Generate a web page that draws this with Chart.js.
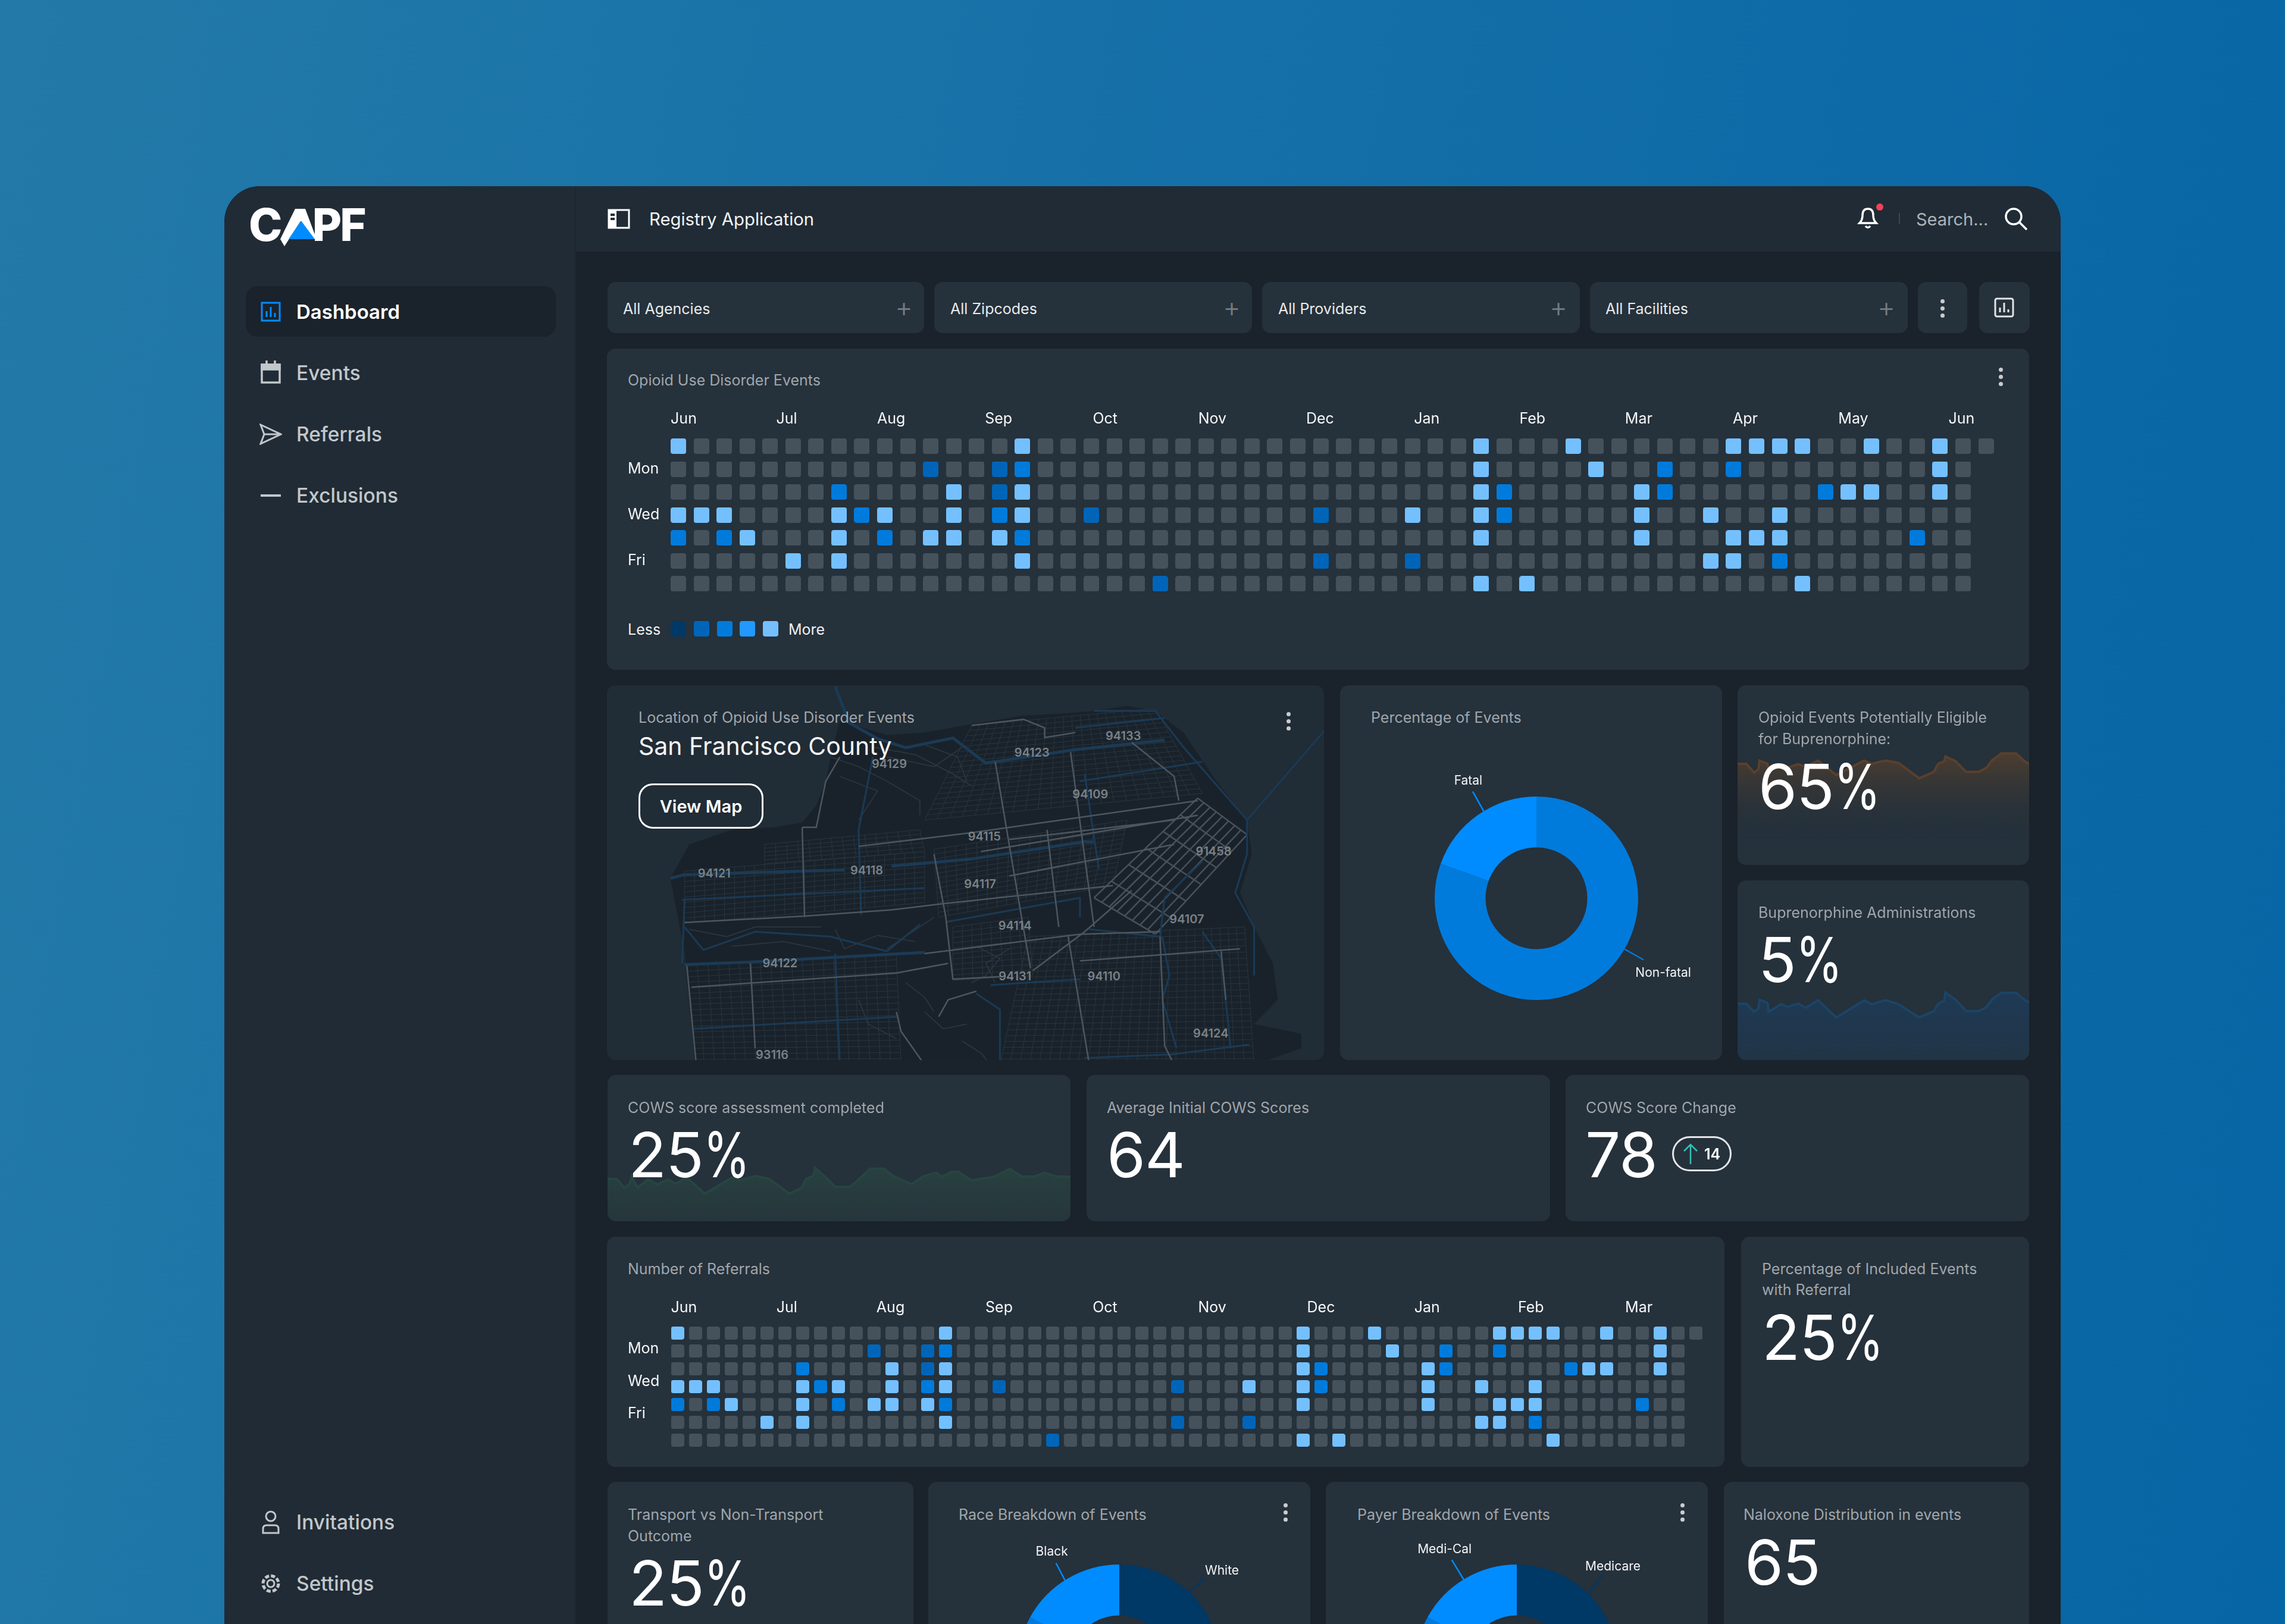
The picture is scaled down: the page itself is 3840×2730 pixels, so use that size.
<!DOCTYPE html>
<html>
<head>
<meta charset="utf-8">
<title>Registry Application</title>
<script src="https://cdn.jsdelivr.net/npm/chart.js@4/dist/chart.umd.js"></script>
<style>
    * { box-sizing: border-box; margin: 0; padding: 0; }
    html, body { width: 3840px; height: 2730px; overflow: hidden; }
    body { position: relative; font-family: Inter, sans-serif; color: #fff; background: linear-gradient(100deg, #237aa8 0%, #1670a8 45%, #0665a5 100%); }
    #app { position: absolute; left: 377px; top: 313px; width: 3086px; height: 2417px; background: #1a222b; border-radius: 60px 60px 0 0; overflow: hidden; }
    #sidebar { position: absolute; left: 377px; top: 313px; width: 591px; height: 2417px; background: #202b35; border-radius: 60px 0 0 0; border-right: 2px solid #1c2630; }
    #topbar { position: absolute; left: 968px; top: 313px; width: 2495px; height: 110px; background: #202b35; border-radius: 0 60px 0 0; }
    .card { position: absolute; background: #25313b; border-radius: 14px; overflow: hidden; }
    .t { position: absolute; transform: translateY(-50%); white-space: nowrap; }
    .title { font-size: 25px; color: #a0a6ab; }
    .big { font-size: 105px; font-weight: 400; letter-spacing: -1px; }
    .big span { display: inline-block; transform: scaleX(0.76); transform-origin: left center; }
    .nav { font-size: 33.5px; font-weight: 500; color: #c2c7cb; }
    .filter { font-size: 25px; color: #e8eaec; }
    .plus { font-size: 46px; font-weight: 300; color: #747c83; transform: translate(-50%, -50%); }
    .cell { position: absolute; width: 26px; height: 26px; border-radius: 4px; top: 1044px; }
    .zip { position: absolute; font-size: 20px; font-weight: 600; color: #7a8187; transform: translate(-50%, -50%); }
    canvas { position: absolute; }
    .dots { position: absolute; width: 7px; }
    .dots i { display: block; width: 7px; height: 7px; margin-bottom: 5px; border-radius: 50%; background: #c9cccf; }
    svg { position: absolute; }
</style>
</head>
<body>
<div id="app"></div>
<div id="sidebar"></div>
<div id="topbar"></div>

<!-- logo -->
<div class="t" style="left:418px;top:377px;font-size:76px;font-weight:800;letter-spacing:-3px;">C<span style="color:transparent">A</span>PF</div>
<svg style="left:460px;top:345px" width="80" height="75"><polygon points="36,6 53,6 72,57 62,57 45,27 18,69 11,57" fill="#fff"/><polygon points="25,57 69,57 46,26" fill="#008cff"/></svg>

<!-- nav -->
<div style="position:absolute;left:413px;top:481px;width:521px;height:85px;background:#1a222b;border-radius:20px"></div>
<svg style="left:438px;top:507px" width="34" height="34" fill="none"><rect x="2" y="2" width="30" height="30" stroke="#008cff" stroke-width="3"/><path d="M10 26V16M17 26V9M24 26V19" stroke="#008cff" stroke-width="3"/></svg>
<div class="t nav" style="left:498px;top:524px;font-size:33px;color:#fff;font-weight:600">Dashboard</div>
<svg style="left:438px;top:606px" width="34" height="40" fill="none" stroke="#c2c7cb" stroke-width="3.5"><rect x="2" y="7" width="30" height="30"/><rect x="2" y="7" width="30" height="8" fill="#c2c7cb"/><path d="M10 0v7M24 0v7"/></svg>
<div class="t nav" style="left:498px;top:627px">Events</div>
<svg style="left:436px;top:712px" width="38" height="36" fill="none" stroke="#c2c7cb" stroke-width="3"><path d="M2 2L36 18L2 34L8 18ZM8 18H36"/></svg>
<div class="t nav" style="left:498px;top:730px">Referrals</div>
<svg style="left:438px;top:830px" width="34" height="6"><rect width="34" height="4" y="1" fill="#c2c7cb"/></svg>
<div class="t nav" style="left:498px;top:833px">Exclusions</div>
<svg style="left:438px;top:2538px" width="34" height="42" fill="none" stroke="#c2c7cb" stroke-width="3"><circle cx="17" cy="11" r="8"/><path d="M4 39V32Q4 26 10 26H24Q30 26 30 32V39Z"/></svg>
<div class="t nav" style="left:498px;top:2559px">Invitations</div>
<svg style="left:436px;top:2643px" width="38" height="38" fill="none" stroke="#c2c7cb" stroke-width="3"><circle cx="19" cy="19" r="6"/><circle cx="19" cy="19" r="13" stroke-width="5" stroke-dasharray="7 3.2"/></svg>
<div class="t nav" style="left:498px;top:2662px">Settings</div>

<!-- top bar -->
<svg style="left:1021px;top:351px" width="38" height="34" fill="none"><rect x="2" y="2" width="34" height="30" stroke="#fff" stroke-width="3"/><rect x="2" y="2" width="13" height="30" fill="#fff"/><path d="M5 10h7M5 17h7" stroke="#202b35" stroke-width="4"/></svg>
<div class="t" style="left:1091px;top:368px;font-size:29.3px;color:#f2f3f4">Registry Application</div>
<svg style="left:3117px;top:342px" width="50" height="50" fill="none" stroke="#fff" stroke-width="3.5"><path d="M8 33Q13 28 13 20Q13 9 22 9Q31 9 31 20Q31 28 36 33Z"/><path d="M18 38Q22 43 26 38"/><circle cx="42" cy="6" r="6" fill="#f0415a" stroke="none"/></svg>
<div style="position:absolute;left:3191px;top:358px;width:2px;height:18px;background:#3c4750"></div>
<div class="t" style="left:3220px;top:368px;font-size:29px;color:#aeb3b7">Search...</div>
<svg style="left:3367px;top:347px" width="42" height="42" fill="none" stroke="#fff" stroke-width="3.5"><circle cx="17" cy="17" r="13"/><path d="M27 27L39 39"/></svg>

<!-- filters -->
<div class="card" style="left:1021px;top:474px;width:532px;height:86px"></div>
<div class="card" style="left:1570px;top:474px;width:534px;height:86px"></div>
<div class="card" style="left:2121px;top:474px;width:534px;height:86px"></div>
<div class="card" style="left:2672px;top:474px;width:534px;height:86px"></div>
<div class="card" style="left:3223px;top:474px;width:83px;height:86px"></div>
<div class="card" style="left:3326px;top:474px;width:85px;height:86px"></div>
<div class="t filter" style="left:1047px;top:519px">All Agencies</div>
<div class="t filter" style="left:1597px;top:519px">All Zipcodes</div>
<div class="t filter" style="left:2148px;top:519px">All Providers</div>
<div class="t filter" style="left:2698px;top:519px">All Facilities</div>
<div class="t plus" style="left:1519px;top:516px">+</div>
<div class="t plus" style="left:2070px;top:516px">+</div>
<div class="t plus" style="left:2619px;top:516px">+</div>
<div class="t plus" style="left:3170px;top:516px">+</div>
<div class="dots" style="left:3261px;top:503px"><i></i><i></i><i></i></div>
<svg style="left:3351px;top:500px" width="34" height="34" fill="none" stroke="#e2e4e6" stroke-width="3"><rect x="2" y="2" width="30" height="30" rx="3"/><path d="M10 25V17M17 25V9M24 25V20"/></svg>

<!-- heatmap card -->
<div class="card" style="left:1020px;top:586px;width:2390px;height:540px"></div>
<div class="t title" style="left:1055px;top:639px">Opioid Use Disorder Events</div>
<div class="dots" style="left:3359px;top:618px"><i></i><i></i><i></i></div>
<canvas id="opioidChart" style="left:1055px;top:680px" width="2310" height="330"></canvas>
<div class="t" style="left:1055px;top:1058px;font-size:25px;color:#eef0f1">Less</div>
<div class="cell" style="left:1127px;background:#003866"></div>
<div class="cell" style="left:1166px;background:#0065b8"></div>
<div class="cell" style="left:1205px;background:#007bdc"></div>
<div class="cell" style="left:1243px;background:#2299ff"></div>
<div class="cell" style="left:1282px;background:#74c0ff"></div>
<div class="t" style="left:1325px;top:1058px;font-size:25px;color:#eef0f1">More</div>

<!-- map card -->
<div class="card" id="mapCard" style="left:1020px;top:1152px;width:1205px;height:630px;background:#202c36"></div>
<div class="t title" style="left:1073px;top:1206px">Location of Opioid Use Disorder Events</div>
<div class="t" style="left:1073px;top:1254px;font-size:41px;color:#f4f5f6">San Francisco County</div>
<div style="position:absolute;left:1073px;top:1317px;width:210px;height:76px;border:3px solid #fff;border-radius:24px;display:flex;align-items:center;justify-content:center;font-size:29px;font-weight:600">View Map</div>
<div class="dots" style="left:2162px;top:1197px"><i></i><i></i><i></i></div>

<!-- donut card -->
<div class="card" style="left:2252px;top:1152px;width:642px;height:630px"></div>
<div class="t title" style="left:2304px;top:1206px">Percentage of Events</div>
<canvas id="eventsDonut" style="left:2262px;top:1190px" width="640" height="640"></canvas>

<!-- eligible / administrations -->
<div class="card" style="left:2920px;top:1152px;width:490px;height:302px"><canvas id="eligibleSpark" width="490" height="302"></canvas></div>
<div class="t title" style="left:2955px;top:1206px">Opioid Events Potentially Eligible</div>
<div class="t title" style="left:2955px;top:1242px">for Buprenorphine:</div>
<div class="t big" style="left:2955px;top:1321px">65<span>%</span></div>
<div class="card" style="left:2920px;top:1480px;width:490px;height:302px"><canvas id="bupSpark" width="490" height="302"></canvas></div>
<div class="t title" style="left:2955px;top:1534px">Buprenorphine Administrations</div>
<div class="t big" style="left:2955px;top:1612px">5<span>%</span></div>

<!-- COWS row -->
<div class="card" style="left:1021px;top:1807px;width:778px;height:246px"><canvas id="cowsSpark" width="778" height="246"></canvas></div>
<div class="t title" style="left:1055px;top:1862px">COWS score assessment completed</div>
<div class="t big" style="left:1056px;top:1940px">25<span>%</span></div>
<div class="card" style="left:1826px;top:1807px;width:779px;height:246px"></div>
<div class="t title" style="left:1860px;top:1862px">Average Initial COWS Scores</div>
<div class="t big" style="left:1860px;top:1940px">64</div>
<div class="card" style="left:2631px;top:1807px;width:779px;height:246px"></div>
<div class="t title" style="left:2665px;top:1862px">COWS Score Change</div>
<div class="t big" style="left:2664px;top:1940px">78</div>
<div style="position:absolute;left:2810px;top:1910px;width:100px;height:59px;border:3px solid #e4e6e8;border-radius:30px"></div>
<svg style="left:2826px;top:1921px" width="30" height="38" fill="none" stroke="#34c2b8" stroke-width="2.5"><path d="M15 36V3M4 14L15 3L26 14"/></svg>
<div class="t" style="left:2864px;top:1940px;font-size:25px;font-weight:600">14</div>

<!-- referrals row -->
<div class="card" style="left:1020px;top:2079px;width:1878px;height:387px"></div>
<div class="t title" style="left:1055px;top:2133px">Number of Referrals</div>
<canvas id="referralChart" style="left:1055px;top:2170px" width="1820" height="275"></canvas>
<div class="card" style="left:2926px;top:2079px;width:484px;height:387px"></div>
<div class="t title" style="left:2961px;top:2133px">Percentage of Included Events</div>
<div class="t title" style="left:2961px;top:2168px">with Referral</div>
<div class="t big" style="left:2961px;top:2247px">25<span>%</span></div>

<!-- bottom row -->
<div class="card" style="left:1021px;top:2491px;width:514px;height:300px"></div>
<div class="t title" style="left:1055px;top:2546px">Transport vs Non-Transport</div>
<div class="t title" style="left:1055px;top:2582px">Outcome</div>
<div class="t big" style="left:1057px;top:2660px">25<span>%</span></div>
<div class="card" style="left:1560px;top:2491px;width:642px;height:300px"></div>
<div class="t title" style="left:1611px;top:2546px">Race Breakdown of Events</div>
<div class="dots" style="left:2157px;top:2527px"><i></i><i></i><i></i></div>
<canvas id="raceDonut" style="left:1561px;top:2481px" width="640" height="640"></canvas>
<div class="card" style="left:2228px;top:2491px;width:642px;height:300px"></div>
<div class="t title" style="left:2281px;top:2546px">Payer Breakdown of Events</div>
<div class="dots" style="left:2824px;top:2527px"><i></i><i></i><i></i></div>
<canvas id="payerDonut" style="left:2229px;top:2481px" width="640" height="640"></canvas>
<div class="card" style="left:2897px;top:2491px;width:513px;height:300px"></div>
<div class="t title" style="left:2930px;top:2546px">Naloxone Distribution in events</div>
<div class="t big" style="left:2932px;top:2625px">65</div>

<script>
// Heatmap palette
const COLORS = {
    empty: '#46525b',
    dark: '#0065b8',
    mid: '#007bdc',
    light: '#74c0ff'
};

const gridRows = [0, 1, 2, 3, 4, 5, 6];
const gridColumnCounts = [58, 57, 57, 57, 57, 57, 57];

const dayLabels = ['Mon', 'Wed', 'Fri'];
const opioidDayTicks = [1, 3, 5];
const referralDayTicks = [0.87, 2.7, 4.53];

const opioidMonths = ['Jun', 'Jul', 'Aug', 'Sep', 'Oct', 'Nov', 'Dec', 'Jan', 'Feb', 'Mar', 'Apr', 'May', 'Jun'];
const opioidMonthTicks = [0, 4.6, 9, 13.7, 18.4, 23, 27.7, 32.4, 37, 41.6, 46.3, 50.9, 55.7];
const referralMonths = ['Jun', 'Jul', 'Aug', 'Sep', 'Oct', 'Nov', 'Dec', 'Jan', 'Feb', 'Mar'];
const referralMonthTicks = [0, 5.9, 11.5, 17.6, 23.6, 29.5, 35.6, 41.6, 47.4, 53.4];

// Week columns per weekday row, one list per colour level
const opioidLight = [
    [0, 15, 35, 39, 46, 47, 48, 49, 52, 55],
    [35, 40, 55],
    [12, 15, 35, 42, 51, 52, 55],
    [0, 1, 2, 7, 9, 12, 15, 32, 35, 42, 45, 48],
    [3, 7, 11, 12, 14, 35, 42, 46, 47, 48],
    [5, 7, 15, 45, 46],
    [35, 37, 49]
];
const opioidMid = [[], [15, 43, 46], [7, 36, 43, 50], [8, 14, 36], [0, 2, 9, 15, 54], [48], []];
const opioidDark = [[], [11, 14], [14], [18, 28], [], [28, 32], [21]];

const referralLight = [
    [0, 15, 35, 39, 46, 47, 48, 49, 52, 55],
    [35, 40, 55],
    [12, 15, 35, 42, 51, 52, 55],
    [0, 1, 2, 7, 9, 12, 15, 32, 35, 42, 45, 48],
    [3, 7, 11, 12, 14, 35, 42, 46, 47, 48],
    [5, 7, 15, 45, 46],
    [35, 37, 49]
];
const referralMid = [[], [15, 43, 46], [7, 36, 43, 50], [8, 14, 36], [0, 2, 9, 15, 54], [48], []];
const referralDark = [[], [11, 14], [14], [18, 28], [], [28, 32], [21]];

// Donuts
const eventLabels = ['Non-fatal', 'Fatal'];
const eventValues = [80.5, 19.5];
const raceLabels = ['White', 'Other', 'Black'];
const raceValues = [25, 58, 17];
const payerLabels = ['Medicare', 'Other', 'Medi-Cal'];
const payerValues = [25, 58, 17];

// Sparklines
const sparkTimes = [0, 3, 5.7, 7.2, 7.5, 10.3, 10.6, 15.1, 17, 20.8, 23.4, 27.6, 33.9, 43.4, 46, 50.7, 55.2, 62.3, 67.3, 68.8, 70.9, 71.3, 74.8, 78.4, 82.7, 85.4, 87.2, 90.5, 95.5, 98.5, 100];
const eligibleValues = [56.3, 56.3, 51.3, 53.4, 58.1, 56.3, 52.3, 55.4, 54.1, 56.1, 54.7, 58.1, 50, 58.1, 56.3, 58.1, 56.8, 48.2, 51.8, 56.3, 57.7, 60.4, 57.7, 51.8, 51.8, 54.1, 58.1, 62.1, 62.1, 57.7, 56.3];
const bupValues = [31.4, 31.4, 26.8, 28.8, 33.6, 31.8, 26.8, 31.3, 29.5, 31.5, 29.1, 33.3, 23.7, 33.3, 31.1, 33.3, 31.1, 23.7, 27.2, 31.3, 32.9, 37.6, 33.6, 27.2, 27.2, 29.5, 33.6, 37.4, 37.4, 33.3, 32.2];
const cowsTimes = [0, 2, 3.6, 4.8, 5.2, 6.5, 8.7, 10.7, 13.1, 14.7, 17.1, 21, 27, 28.6, 31.9, 34.9, 39.3, 41.9, 42.9, 44.4, 44.8, 46.8, 49.2, 52.4, 54.4, 56.7, 59.7, 61.7, 65.7, 68.3, 71, 72.2, 74.2, 75.8, 78.6, 83.5, 86.9, 89.5, 92.1, 94.4, 97, 100];
const cowsValues = [29, 29, 22.9, 25.6, 30.5, 22.9, 28.6, 25.3, 28.6, 25.6, 30, 18.8, 30.1, 28, 31, 29, 18.8, 22.9, 29, 31, 36.5, 31, 23.5, 23.5, 29, 36, 36, 31, 25.3, 31, 33.2, 30.5, 33.7, 33.7, 28, 30.5, 35.9, 30.5, 30.5, 33.2, 30.5, 30.5];

// Map labels and roads, in the reference crop's coordinates
const zipLabels = [
    ['94133', 1122, 213], ['94123', 928, 282], ['94129', 625, 328], ['94109', 1052, 452],
    ['94115', 827, 627], ['91458', 1314, 688], ['94121', 253, 780], ['94118', 577, 767],
    ['94117', 818, 822], ['94114', 892, 995], ['94107', 1257, 967], ['94122', 393, 1150],
    ['94131', 892, 1203], ['94110', 1081, 1203], ['94124', 1308, 1438], ['93116', 376, 1527]
];
const landOutline = [[160, 800], [200, 660], [290, 600], [380, 590], [440, 570], [470, 500], [490, 400], [505, 260], [520, 150], [620, 210], [700, 200], [800, 165], [910, 130], [1000, 120], [1060, 110], [1130, 90], [1190, 110], [1250, 200], [1320, 400], [1385, 560], [1395, 700], [1370, 860], [1400, 1000], [1440, 1150], [1450, 1300], [1400, 1400], [1500, 1440], [1500, 1500], [1400, 1568], [210, 1568], [190, 1100]];
const grayRoads = [
    [[560, 668], [800, 612], [1280, 480]], [[190, 982], [450, 955], [630, 930], [735, 905], [1100, 830]],
    [[880, 790], [1230, 660]], [[880, 640], [1230, 560]], [[820, 690], [1280, 540]],
    [[850, 320], [905, 950], [925, 1170]], [[960, 600], [985, 1000]], [[1010, 280], [1060, 1000]],
    [[1140, 240], [1230, 380], [1240, 480]], [[440, 590], [445, 960]], [[440, 590], [470, 590], [490, 400], [520, 300]],
    [[720, 700], [745, 960], [760, 1215], [860, 1205]], [[700, 1110], [1030, 1030], [1200, 1020]],
    [[1030, 1140], [1370, 1090]], [[205, 1248], [640, 1190], [750, 1150]], [[330, 1150], [340, 1500]],
    [[1005, 1040], [1050, 1568]], [[930, 1180], [1040, 1020], [1140, 850]], [[800, 170], [910, 145], [955, 180], [955, 220], [1020, 200]],
    [[640, 1350], [650, 1430], [700, 1568]], [[730, 1370], [750, 1300], [810, 1265]], [[1200, 1040], [1210, 1490], [1230, 1568]],
    [[1330, 1100], [1340, 1300]], [[195, 1160], [215, 1568]]
];
const mainBlueRoads = [
    [[160, 800], [190, 785], [530, 765]], [[630, 750], [800, 720], [1040, 650], [1060, 650]], [[190, 1155], [330, 1145], [700, 1105]],
    [[510, 10], [540, 160], [600, 225], [660, 262], [760, 222], [830, 325], [1020, 270], [1210, 230]]
];
const blueRoads = [
    [[185, 888], [700, 840]],
    [[1060, 110], [1190, 110], [1250, 260], [1385, 560], [1385, 700], [1360, 860], [1400, 1000], [1400, 1200]],
    [[1030, 400], [1290, 320]], [[1020, 180], [1210, 140]], [[590, 300], [560, 600], [565, 950]],
    [[1205, 1040], [1220, 1200], [1205, 1300], [1235, 1500]], [[1290, 1020], [1330, 1130], [1345, 1400], [1350, 1500]],
    [[1050, 1010], [1200, 1040], [1210, 880], [1290, 730]], [[745, 980], [1030, 880], [1030, 960]], [[840, 1240], [1030, 1215]],
    [[810, 1275], [860, 1340], [860, 1568]], [[1040, 1540], [1225, 1525], [1390, 1485]], [[510, 1110], [520, 1568]],
    [[210, 1420], [640, 1370]], [[1040, 370], [1070, 760]], [[1385, 560], [1550, 190]], [[190, 890], [185, 1150]],
    [[190, 1000], [230, 1095], [340, 1020], [500, 1040], [620, 1100], [690, 990]]
];
// Thin winding paths through the parks and hills
const parkPaths = [
    [[500, 300], [560, 340], [620, 400], [690, 480], [690, 540]], [[590, 260], [680, 290], [760, 370], [800, 420]],
    [[520, 380], [600, 440], [560, 560]], [[700, 250], [770, 300], [790, 400]], [[620, 300], [720, 340], [780, 260]],
    [[200, 1010], [280, 1040], [340, 1000], [480, 1000]], [[290, 1080], [400, 1060], [500, 1100]],
    [[510, 1010], [530, 1090], [600, 1035], [680, 1060]], [[620, 1090], [690, 1000], [720, 960]],
    [[810, 1080], [860, 1130], [830, 1200], [800, 1230]], [[880, 1090], [830, 1150], [850, 1230]],
    [[560, 1300], [580, 1400], [640, 1460]], [[700, 1350], [740, 1420], [790, 1400]],
    [[780, 1470], [820, 1520], [840, 1568]], [[660, 1230], [700, 1290], [720, 1350]]
];
// Street grids as four-cornered districts: corners, columns, rows
const streetGrids = [
    [[190, 770], [700, 690], [700, 900], [190, 985], 24, 10],
    [[360, 660], [690, 600], [700, 690], [360, 740], 14, 5],
    [[195, 1160], [640, 1110], [650, 1568], [210, 1568], 20, 18],
    [[800, 170], [1190, 100], [1290, 450], [700, 560], 22, 18],
    [[720, 680], [1130, 560], [1100, 830], [730, 960], 18, 14],
    [[920, 1040], [1380, 1000], [1400, 1568], [860, 1568], 26, 22],
    [[760, 1000], [920, 960], [930, 1200], [760, 1220], 8, 10]
];
const soma = [[1060, 880], [1280, 470], [1385, 620], [1190, 1030], 6, 8];

Chart.defaults.font.family = 'Inter, sans-serif';
Chart.defaults.animation = false;

function makeCellImage(color, size) {
    const c = document.createElement('canvas');
    c.width = size;
    c.height = size;
    const g = c.getContext('2d');
    g.fillStyle = color;
    g.beginPath();
    g.roundRect(0, 0, size, size, 4);
    g.fill();
    return c;
}

function buildCells(light, mid, dark) {
    const cells = [];
    gridRows.forEach(r => {
        for (let col = 0; col < gridColumnCounts[r]; col++) {
            let level = 'empty';
            if (light[r].includes(col)) level = 'light';
            else if (mid[r].includes(col)) level = 'mid';
            else if (dark[r].includes(col)) level = 'dark';
            cells.push({ x: col, y: r, level });
        }
    });
    return cells;
}

function renderHeatmap(id, cells, cellSize, months, monthTicks, dayTicks, box) {
    const images = {};
    Object.keys(COLORS).forEach(k => { images[k] = makeCellImage(COLORS[k], cellSize); });

    new Chart(document.getElementById(id), {
        type: 'scatter',
        // radius stays small: image points ignore it, but the layout reserves room for it
        data: { datasets: [{ data: cells, pointStyle: ctx => images[ctx.raw.level], pointRadius: 1 }] },
        options: {
            responsive: false,
            layout: { padding: { left: 0, top: 0, right: box.right, bottom: box.bottom } },
            events: [],
            plugins: { legend: { display: false }, tooltip: { enabled: false } },
            scales: {
                x: {
                    type: 'linear',
                    position: 'top',
                    min: -0.5,
                    max: 57.5,
                    grid: { display: false },
                    border: { display: false },
                    afterBuildTicks: axis => { axis.ticks = monthTicks.map(v => ({ value: v })); },
                    afterFit: axis => {
                        axis.height = box.axisHeight;
                        axis.paddingLeft = 0;
                        axis.paddingRight = 0;
                    },
                    ticks: {
                        callback: (v, i) => months[i],
                        align: 'start',
                        labelOffset: -cellSize / 2,
                        padding: box.monthPadding,
                        autoSkip: false,
                        maxRotation: 0,
                        color: '#f6f7f8',
                        font: { size: 25 }
                    }
                },
                y: {
                    type: 'linear',
                    reverse: true,
                    min: -0.5,
                    max: 6.5,
                    grid: { display: false },
                    border: { display: false },
                    afterBuildTicks: axis => { axis.ticks = dayTicks.map(v => ({ value: v })); },
                    afterFit: axis => {
                        axis.width = box.axisWidth;
                        axis.paddingTop = 0;
                        axis.paddingBottom = 0;
                    },
                    ticks: {
                        callback: (v, i) => dayLabels[i],
                        crossAlign: 'far',
                        autoSkip: false,
                        color: '#f6f7f8',
                        font: { size: 25 }
                    }
                }
            }
        }
    });
}

// Leader lines and labels around a doughnut
const leaderPlugin = {
    id: 'leaders',
    afterDraw(chart, args, opts) {
        const arc = chart.getDatasetMeta(0).data[0];
        const g = chart.ctx;
        opts.items.forEach(it => {
            const a = it.angle * Math.PI / 180;
            const sx = arc.x + arc.outerRadius * Math.sin(a);
            const sy = arc.y - arc.outerRadius * Math.cos(a);
            g.save();
            g.strokeStyle = it.color;
            g.lineWidth = 2.5;
            g.beginPath();
            g.moveTo(sx, sy);
            g.lineTo(sx + it.dx, sy + it.dy);
            g.stroke();
            g.fillStyle = '#f4f5f6';
            g.font = '21px Inter, sans-serif';
            g.textAlign = 'center';
            g.textBaseline = 'middle';
            g.fillText(it.text, sx + it.dx + it.tx, sy + it.dy + it.ty);
            g.restore();
        });
    }
};

function renderDonut(id, labels, values, colors, items) {
    new Chart(document.getElementById(id), {
        type: 'doughnut',
        data: { labels, datasets: [{ data: values, backgroundColor: colors, borderWidth: 0 }] },
        options: {
            responsive: false,
            radius: 171,
            cutout: '50%',
            events: [],
            plugins: { legend: { display: false }, tooltip: { enabled: false }, leaders: { items } }
        },
        plugins: [leaderPlugin]
    });
}

function renderSpark(id, times, values, lineColor, topFill, bottomFill, fillTop, fillBottom) {
    new Chart(document.getElementById(id), {
        type: 'line',
        data: {
            datasets: [{
                data: times.map((t, i) => ({ x: t, y: values[i] })),
                borderColor: lineColor,
                borderWidth: 4,
                pointRadius: 0,
                tension: 0,
                fill: 'start',
                backgroundColor: ctx => {
                    const h = ctx.chart.height;
                    const grad = ctx.chart.ctx.createLinearGradient(0, h * fillTop, 0, h * fillBottom);
                    grad.addColorStop(0, topFill);
                    grad.addColorStop(1, bottomFill);
                    return grad;
                }
            }]
        },
        options: {
            responsive: false,
            events: [],
            plugins: { legend: { display: false }, tooltip: { enabled: false } },
            scales: {
                x: { type: 'linear', display: false, min: 0, max: 100 },
                y: { display: false, min: 0, max: 100 }
            }
        }
    });
}

function renderMap() {
    const NS = 'http://www.w3.org/2000/svg';
    const card = document.getElementById('mapCard');
    const svg = document.createElementNS(NS, 'svg');
    svg.setAttribute('width', 1205);
    svg.setAttribute('height', 630);
    svg.style.left = 0;
    svg.style.top = 0;
    card.appendChild(svg);

    const px = p => [(p[0] / 1.264 - 20).toFixed(1), (p[1] / 2.45 - 2).toFixed(1)];
    const addPath = (pts, stroke, width, fill) => {
        const el = document.createElementNS(NS, 'path');
        el.setAttribute('d', 'M' + pts.map(p => px(p).join(' ')).join('L') + (fill ? 'Z' : ''));
        el.setAttribute('fill', fill || 'none');
        el.setAttribute('stroke', stroke);
        el.setAttribute('stroke-width', width);
        el.setAttribute('stroke-linejoin', 'round');
        svg.appendChild(el);
    };
    const lerp = (a, b, t) => [a[0] + (b[0] - a[0]) * t, a[1] + (b[1] - a[1]) * t];
    const addGrid = (g, stroke, width) => {
        const [tl, tr, br, bl, nu, nv] = g;
        for (let i = 0; i <= nu; i++) addPath([lerp(tl, tr, i / nu), lerp(bl, br, i / nu)], stroke, width);
        for (let j = 0; j <= nv; j++) addPath([lerp(tl, bl, j / nv), lerp(tr, br, j / nv)], stroke, width);
    };

    addPath(landOutline, 'none', 0, '#19222a');
    streetGrids.forEach(g => addGrid(g, '#2a353e', 1));
    parkPaths.forEach(r => addPath(r, '#2d3942', 1.5));
    addGrid(soma, '#48515a', 2.5);
    blueRoads.forEach(r => addPath(r, '#1b3a55', 3));
    mainBlueRoads.forEach(r => addPath(r, '#1b3a55', 5));
    grayRoads.forEach(r => addPath(r, '#4d565e', 2.5));

    zipLabels.forEach(z => {
        const el = document.createElement('div');
        el.className = 'zip';
        el.textContent = z[0];
        const [x, y] = px([z[1], z[2]]);
        el.style.left = x + 'px';
        el.style.top = y + 'px';
        card.appendChild(el);
    });
}

renderMap();

renderHeatmap('opioidChart', buildCells(opioidLight, opioidMid, opioidDark), 26, opioidMonths, opioidMonthTicks, opioidDayTicks,
    { axisWidth: 65.8, axisHeight: 50.7, monthPadding: 3, right: 8.2, bottom: 9.3 });
renderHeatmap('referralChart', buildCells(referralLight, referralMid, referralDark), 22, referralMonths, referralMonthTicks, referralDayTicks,
    { axisWidth: 68.5, axisHeight: 56, monthPadding: 5, right: 9.8, bottom: 9 });

renderDonut('eventsDonut', eventLabels, eventValues, ['#007bdc', '#008cff'], [
    { text: 'Fatal', angle: -31.2, dx: -18.5, dy: -33, tx: -7.5, ty: -18, color: '#008cff' },
    { text: 'Non-fatal', angle: 120, dx: 32, dy: 18, tx: 33, ty: 22, color: '#007bdc' }
]);
renderDonut('raceDonut', raceLabels, raceValues, ['#003866', '#007bdc', '#008cff'], [
    { text: 'Black', angle: -32.3, dx: -15, dy: -29, tx: -7, ty: -19, color: '#008cff' },
    { text: 'White', angle: 43.4, dx: 26, dy: -24, tx: 29, ty: -12, color: '#003866' }
]);
renderDonut('payerDonut', payerLabels, payerValues, ['#003866', '#007bdc', '#008cff'], [
    { text: 'Medi-Cal', angle: -31.5, dx: -20, dy: -33, tx: -12, ty: -18, color: '#008cff' },
    { text: 'Medicare', angle: 44.8, dx: 23, dy: -31, tx: 18, ty: -15, color: '#003866' }
]);

renderSpark('eligibleSpark', sparkTimes, eligibleValues, '#5a402c', 'rgba(120,75,35,0.45)', 'rgba(37,49,59,0)', 0.4, 0.85);
renderSpark('bupSpark', sparkTimes, bupValues, '#1c4466', 'rgba(25,65,105,0.55)', 'rgba(25,65,105,0.25)', 0.65, 1);
renderSpark('cowsSpark', cowsTimes, cowsValues, '#274541', 'rgba(45,85,70,0.5)', 'rgba(45,85,70,0.15)', 0.55, 1);
</script>
</body>
</html>
